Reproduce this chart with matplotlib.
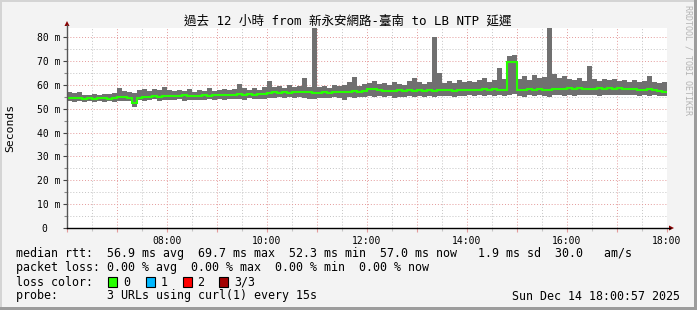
import numpy as np
import matplotlib
matplotlib.use("Agg")
import matplotlib.pyplot as plt
from matplotlib.patches import Rectangle, Polygon
from matplotlib.lines import Line2D

# 6-minute bins from 06:00 to 18:00, values in ms
median = [
    54.6, 54.3, 54.5, 54.2, 54.4, 54.1, 54.3, 54.5, 54.2, 54.4,
    54.7, 54.8, 54.6, 52.3, 54.5, 54.8, 54.9, 55.2, 55.0, 55.3,
    55.1, 55.4, 55.2, 55.5, 55.3, 55.1, 55.4, 55.6, 55.3, 55.5,
    55.6, 55.8, 55.5, 55.9, 56.0, 55.7, 56.1, 55.9, 56.2, 56.0,
    56.5, 56.8, 56.6, 56.9, 56.7, 57.0, 56.8, 57.1, 56.9, 56.4,
    56.5, 56.8, 56.7, 57.0, 56.8, 57.1, 56.9, 57.2, 57.0, 57.3,
    58.4, 58.1, 57.6, 57.3, 57.5, 57.2, 57.6, 57.4, 57.7, 57.5,
    57.6, 57.4, 57.8, 57.5, 57.9, 57.6, 57.8, 57.5, 57.9, 57.7,
    57.8, 58.0, 57.7, 58.1, 57.9, 58.2, 57.8, 58.0, 69.5, 69.7,
    58.0, 57.7, 58.2, 57.9, 58.3, 58.0, 57.6, 58.1, 58.4, 58.2,
    58.5, 58.3, 58.6, 58.2, 58.4, 58.1, 58.5, 58.3, 58.6, 58.4,
    58.5, 58.3, 58.1, 58.4, 58.0, 57.8, 58.1, 57.6, 57.3, 57.0,
]
smoke_top = [
    56.8, 56.5, 57.0, 55.9, 55.8, 56.2, 55.7, 56.3, 56.0, 56.6,
    58.5, 57.3, 57.0, 56.4, 57.9, 58.1, 57.5, 58.2, 57.7, 58.9,
    57.6, 57.2, 57.9, 57.3, 58.4, 57.1, 57.8, 57.5, 58.6, 57.4,
    57.9, 58.3, 57.6, 58.1, 60.3, 58.7, 58.0, 58.5, 57.9, 59.2,
    61.6, 58.9, 59.4, 58.6, 59.8, 58.9, 59.5, 62.8, 59.1, 86.0,
    59.0, 59.6, 58.8, 60.1, 59.3, 59.9, 61.3, 63.4, 59.5, 60.2,
    60.8, 61.5, 60.2, 60.9, 59.8, 61.2, 60.5, 60.0, 61.4, 62.8,
    61.0, 60.4, 61.3, 80.0, 64.9, 60.7, 61.6, 60.9, 61.8, 61.1,
    61.5, 61.0, 61.8, 62.8, 61.3, 62.0, 67.0, 62.2, 72.0, 72.5,
    62.6, 63.5, 62.1, 64.0, 62.8, 63.2, 86.0, 64.4, 62.9, 63.6,
    62.3, 61.8, 62.9, 61.5, 68.0, 62.2, 61.7, 62.6, 61.9, 62.4,
    61.5, 62.0, 61.2, 61.8, 61.0, 61.6, 63.7, 61.3, 60.8, 61.0,
]
smoke_bot = [
    53.1, 52.9, 53.3, 52.7, 53.0, 52.6, 53.1, 52.9, 53.2, 52.8,
    53.3, 53.1, 53.4, 50.8, 53.5, 53.2, 53.6, 53.9, 53.4, 53.7,
    53.8, 53.5, 53.9, 53.4, 53.7, 53.5, 53.8, 53.6, 53.9, 53.7,
    54.0, 53.8, 54.1, 53.9, 54.2, 53.7, 54.3, 54.0, 54.2, 54.1,
    54.6, 54.3, 54.7, 54.5, 54.8, 54.4, 54.7, 54.6, 54.2, 53.9,
    54.3, 54.6, 54.4, 54.7, 54.5, 53.6, 54.8, 54.6, 54.9, 54.7,
    55.1, 54.8, 55.2, 54.9, 55.3, 54.6, 55.0, 54.7, 55.2, 55.0,
    55.2, 54.9, 55.3, 55.0, 55.4, 55.1, 55.3, 55.0, 55.4, 55.2,
    55.5, 55.2, 55.6, 55.3, 55.7, 55.4, 55.6, 55.3, 55.8, 56.0,
    55.4, 55.0, 55.6, 55.2, 55.7, 55.3, 54.8, 55.5, 55.8, 55.4,
    55.7, 55.4, 55.8, 55.5, 55.9, 55.6, 55.3, 55.7, 55.5, 55.8,
    55.6, 55.8, 55.5, 55.7, 55.4, 55.6, 55.3, 55.5, 55.2, 55.3,
]
y_ticks = [0, 10, 20, 30, 40, 50, 60, 70, 80]
x_hours = list(range(6, 19))

title = "過去 12 小時 from 新永安網路-臺南 to LB NTP 延遲"
legend_lines = [
    "median rtt:  56.9 ms avg  69.7 ms max  52.3 ms min  57.0 ms now   1.9 ms sd  30.0   am/s",
    "packet loss: 0.00 % avg  0.00 % max  0.00 % min  0.00 % now",
    "loss color:",
    "probe:       3 URLs using curl(1) every 15s",
]
loss_labels = ["0", "1", "2", "3/3"]
loss_colors = ["#26ff00", "#00b8ff", "#ff0000", "#a10000"]
stamp = "Sun Dec 14 18:00:57 2025"

W, H = 697, 310
mono = "DejaVu Sans Mono"
fig = plt.figure(figsize=(W / 100, H / 100), dpi=100, facecolor="#f3f3f3")

def fx(px):
    return px / W

def fy(py):
    return 1 - py / H

ax = fig.add_axes([fx(67), fy(228), fx(600), 200 / H])
ax.set_facecolor("white")

med = np.array(median)
top = np.array(smoke_top)
bot = np.array(smoke_bot)
edges = 6 + np.arange(len(med) + 1) * 12 / len(med)

# smoke and median
ax.bar(edges[:-1], top - bot, bottom=bot, width=edges[1] - edges[0],
       align="edge", color="#707070", linewidth=0, zorder=2)
ax.stairs(med, edges, baseline=None, color="#26ff00", linewidth=1.5, zorder=3)

ax.set_xlim(6, 18)
ax.set_ylim(0, 83.77)

# grid
ax.set_yticks(y_ticks)
ax.set_yticks(np.arange(5, 85, 10), minor=True)
ax.set_xticks(x_hours)
ax.set_xticks(np.arange(6.5, 18, 1), minor=True)
ax.set_yticklabels([f"{v} m" if v else "0  " for v in y_ticks],
                   family=mono, fontsize=7)
ax.set_xticklabels([f"{h:02d}:00" if h % 2 == 0 and h > 6 else "" for h in x_hours],
                   family=mono, fontsize=7)
ax.grid(which="major", color="#e49a9a", linestyle=(0, (1, 2)), linewidth=0.7)
ax.grid(which="minor", color="#c4c4c4", linestyle=(0, (1, 2)), linewidth=0.7)
ax.set_axisbelow(True)
ax.tick_params(axis="y", which="major", length=3, width=0.8, color="#444444", pad=2)
ax.tick_params(axis="y", which="minor", length=2, width=0.8, color="#888888")
ax.tick_params(axis="x", which="major", length=3, width=0.8, color="#e49a9a", pad=3)
ax.tick_params(axis="x", which="minor", length=2, width=0.8, color="#c4c4c4")
for s in ax.spines.values():
    s.set_visible(False)

# axis lines with arrows
fig.add_artist(Line2D([fx(67), fx(67)], [fy(228), fy(25)], color="#555555", lw=1))
fig.add_artist(Line2D([fx(67), fx(670)], [fy(228), fy(228)], color="black", lw=1))
fig.add_artist(Polygon([[fx(64.5), fy(26)], [fx(69.5), fy(26)], [fx(67), fy(21)]],
                       closed=True, color="#8b0000", lw=0))
fig.add_artist(Polygon([[fx(669), fy(225.5)], [fx(669), fy(230.5)], [fx(674), fy(228)]],
                       closed=True, color="#8b0000", lw=0))

fig.text(fx(348), fy(21), title, ha="center", va="center", fontsize=9,
         family=[mono, "Noto Sans CJK TC"])
fig.text(fx(10), fy(128), "Seconds", rotation=90, ha="center", va="center",
         fontsize=8.2, family=mono)
fig.text(fx(688), fy(5), "RRDTOOL / TOBI OETIKER", rotation=270, ha="center",
         va="top", fontsize=6, family=mono, color="#b4b4b4")

for i, line in enumerate(legend_lines):
    fig.text(fx(16), fy(254 + 14 * i), line, ha="left", va="center",
             fontsize=8.4, family=mono)
box_x = [108, 145.5, 182.5, 219]
for bx, lab, col in zip(box_x, loss_labels, loss_colors):
    fig.add_artist(Rectangle((fx(bx), fy(287)), fx(9), 10 / H, facecolor=col,
                             edgecolor="black", lw=0.8))
    fig.text(fx(bx + 15), fy(282), lab, ha="left", va="center",
             fontsize=8.4, family=mono)
fig.text(fx(680), fy(296), stamp, ha="right", va="center", fontsize=8.4, family=mono)

# 3d-ish frame
fig.add_artist(Rectangle((0, fy(2)), 1, 2 / H, color="#d4d4d4", lw=0))
fig.add_artist(Rectangle((0, 0), fx(2), 1, color="#d4d4d4", lw=0))
fig.add_artist(Rectangle((0, 0), 1, 3 / H, color="#9c9c9c", lw=0))
fig.add_artist(Rectangle((fx(694), 0), fx(3), 1, color="#9c9c9c", lw=0))

fig.savefig("out.png", dpi=100, facecolor=fig.get_facecolor())
